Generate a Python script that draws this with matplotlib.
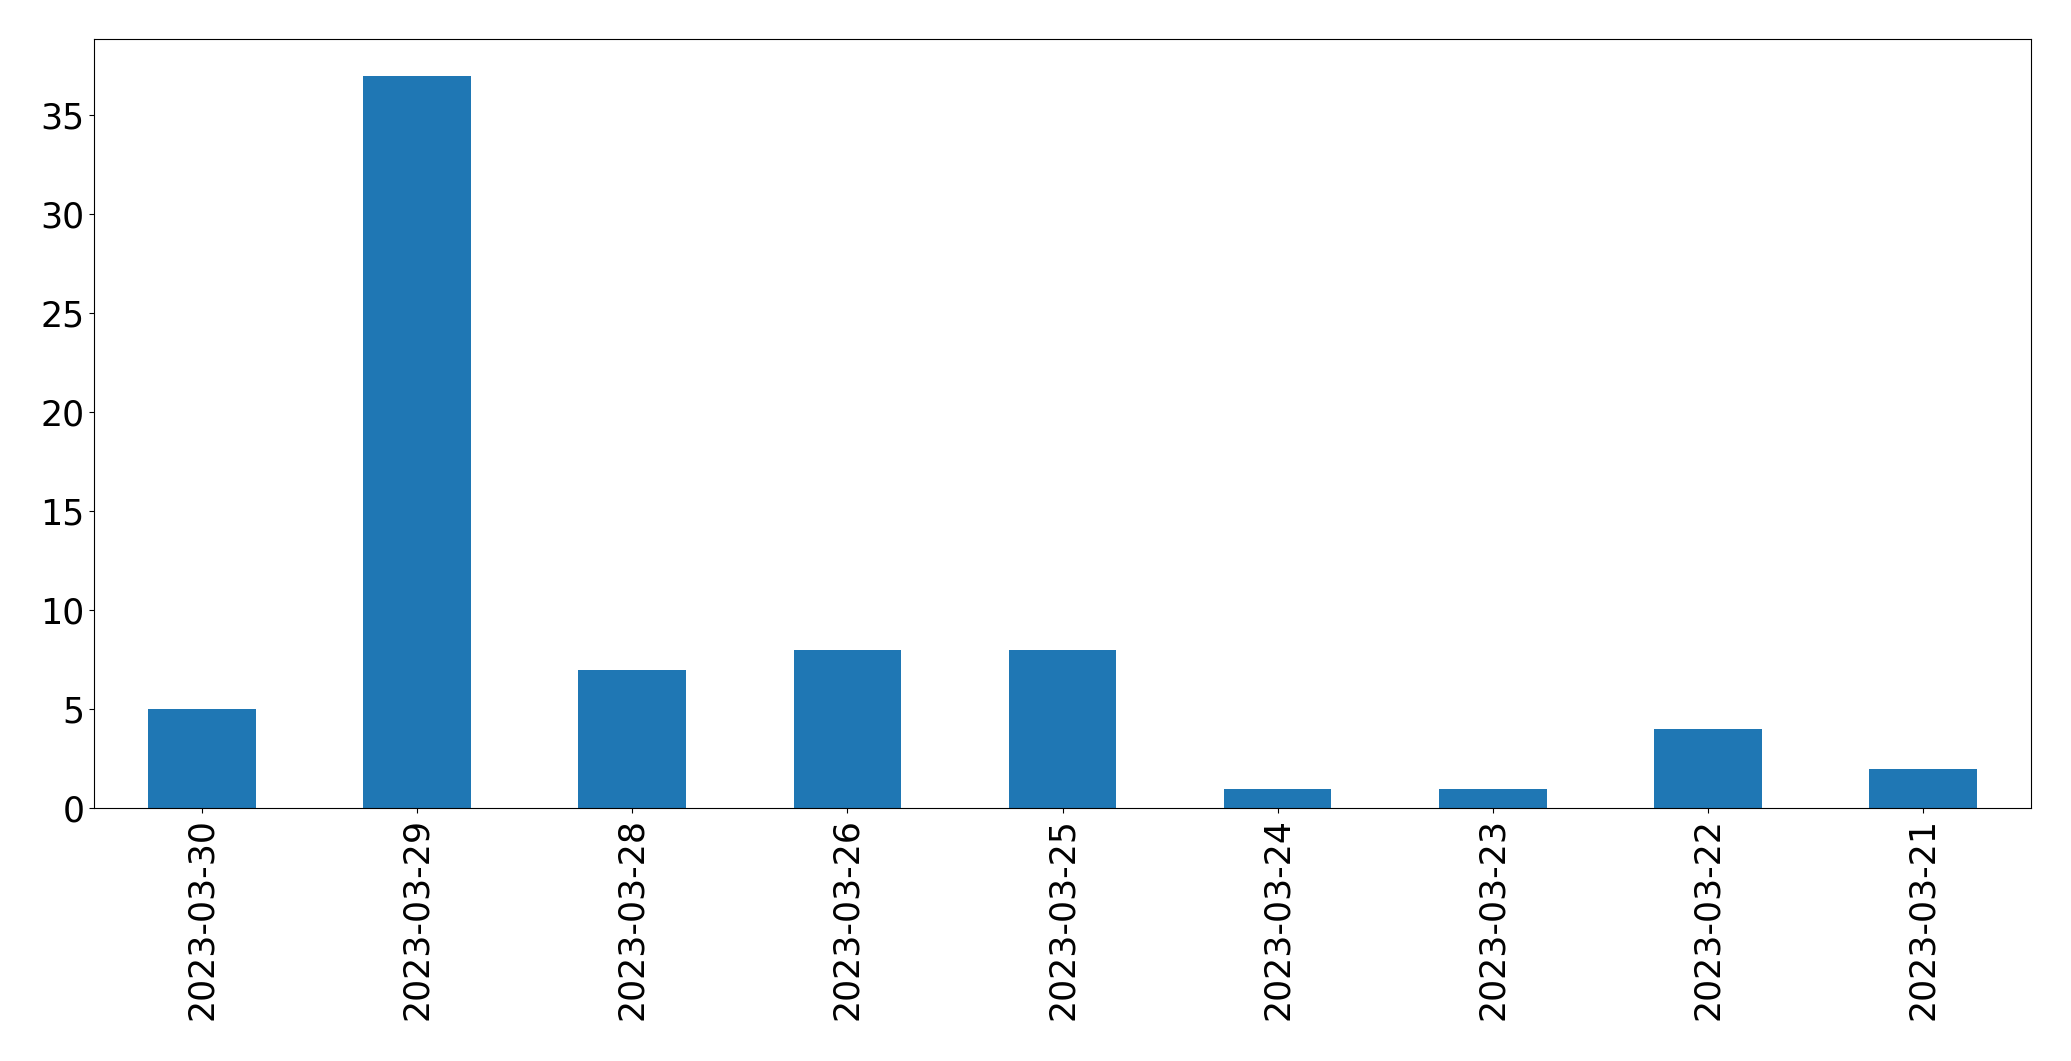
import pandas as pd
import matplotlib
matplotlib.use("Agg")
import matplotlib.pyplot as plt

dates = ["2023-03-30", "2023-03-29", "2023-03-28", "2023-03-26", "2023-03-25",
         "2023-03-24", "2023-03-23", "2023-03-22", "2023-03-21"]
counts = [5, 37, 7, 8, 8, 1, 1, 4, 2]

s = pd.Series(counts, index=dates)

fig, ax = plt.subplots(figsize=(20.71, 10.61), dpi=100)
s.plot(kind="bar", ax=ax, fontsize=25)
plt.subplots_adjust(left=0.0456, right=0.9805, top=0.963, bottom=0.238)
fig.savefig("out.png", dpi=100)
